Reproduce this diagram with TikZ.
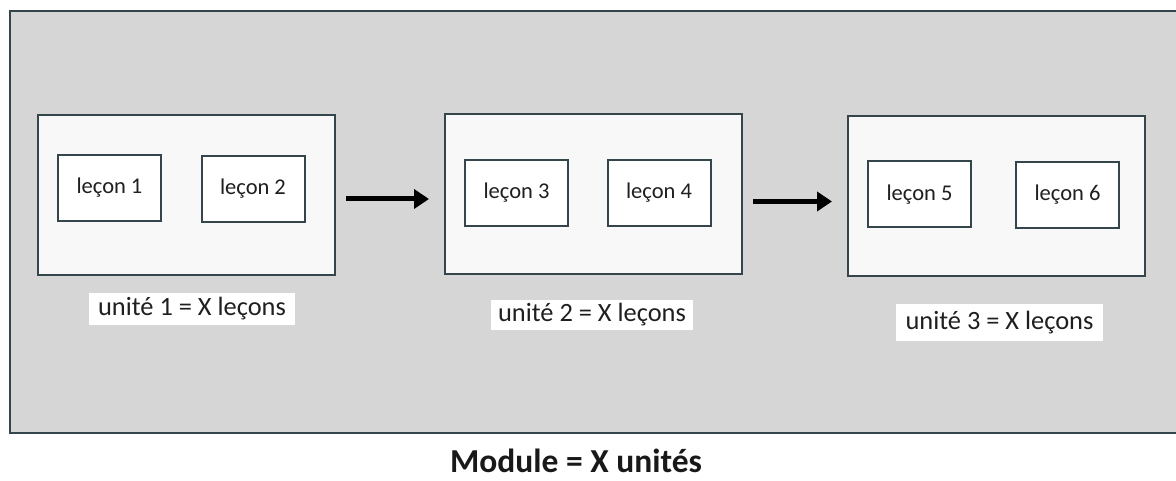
\documentclass[tikz,border=0pt]{standalone}
\usepackage{fontspec}
\setmainfont{Carlito}
\usetikzlibrary{arrows.meta}
\definecolor{bggray}{RGB}{214,214,214}
\definecolor{unitfill}{RGB}{248,248,248}
\definecolor{edgec}{RGB}{52,70,76}
\tikzset{
  unitbox/.style={draw=edgec, line width=2pt, fill=unitfill, minimum width=297pt, minimum height=160pt, inner sep=0pt},
  lessonbox/.style={draw=edgec, line width=2pt, fill=white, minimum width=103pt, minimum height=66pt, inner sep=0pt, font=\fontsize{22.5}{27}\selectfont, text=black!88},
  unitlabel/.style={fill=white, inner sep=0pt, font=\fontsize{26.4}{30}\selectfont, text=black!88},
  flowarrow/.style={line width=5pt, black, -{Triangle[length=15pt,width=19pt]}, shorten <=10pt, shorten >=15pt}
}
\begin{document}
\begin{tikzpicture}[x=1pt,y=-1pt]
\useasboundingbox (0,0) rectangle (1176,481);
\fill[white] (0,0) rectangle (1176,481);
\fill[bggray] (10,11) rectangle (1176,433);
\draw[edgec, line width=2pt] (1176,11) -- (10,11) -- (10,433) -- (1176,433);
% units
\node[unitbox] (u1) at (186.5,195) {};
\node[unitbox] (u2) at (593.5,194.5) {};
\node[unitbox] (u3) at (996.5,196) {};
% lessons
\node[lessonbox] (l1) at (109.5,188) {leçon 1};
\node[lessonbox] (l2) at (253,189) {leçon 2};
\node[lessonbox] (l3) at (516.5,193) {leçon 3};
\node[lessonbox] (l4) at (659,193) {leçon 4};
\node[lessonbox] (l5) at (919.5,194.5) {leçon 5};
\node[lessonbox] (l6) at (1067.5,195) {leçon 6};
% labels
\node[unitlabel, minimum width=206pt, minimum height=32pt] (t1) at (192,309) {unité 1 = X leçons};
\node[unitlabel, minimum width=202pt, minimum height=30pt] (t2) at (592,315) {unité 2 = X leçons};
\node[unitlabel, minimum width=207pt, minimum height=37pt] (t3) at (999.5,322.5) {unité 3 = X leçons};
% module label
\node[font=\bfseries\fontsize{33.5}{38}\selectfont, text=black!90, inner sep=0pt, anchor=base] (mod) at (576,472) {Module = X unités};
% arrows
\draw[flowarrow] ([yshift=-4pt]u1.east) -- ([yshift=-4pt]u1.east -| u2.west);
\draw[flowarrow] ([yshift=-7pt]u2.east) -- ([yshift=-7pt]u2.east -| u3.west);
\end{tikzpicture}
\end{document}
